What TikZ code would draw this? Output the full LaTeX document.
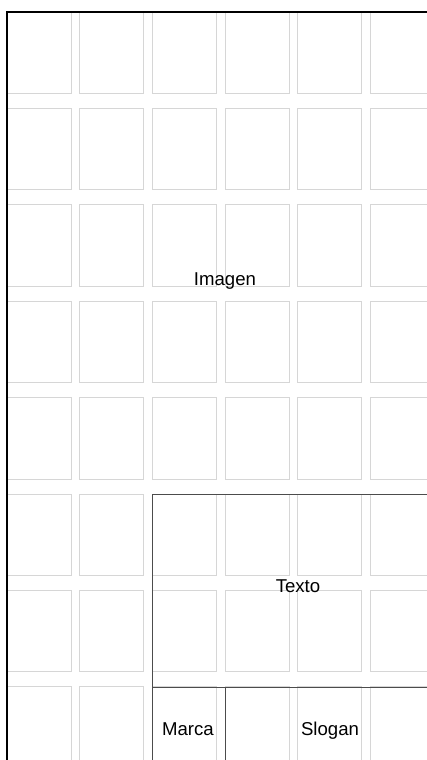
\documentclass[tikz,border=0pt]{standalone}
\usepackage{fontspec}
\setmainfont{Liberation Sans}
\begin{document}
\begin{tikzpicture}[x=1pt, y=-1pt,
    celda/.style={draw=black!16, line width=1pt},
    marco/.style={draw=black!70, line width=0.9pt},
    etiqueta/.style={font=\fontsize{18.6}{22}\selectfont, inner sep=0pt, anchor=base}]
    % Tamaño del lienzo
    \useasboundingbox (0, 0) rectangle (427, 760);
    \clip (0, 0) rectangle (427, 760);

    % Cuadrícula de fondo
    \foreach \c in {0,...,5} {
        \foreach \r in {0,...,7} {
            \draw[celda] ({7+72.7*\c}, {12+96.4*\r}) rectangle ++(64, 81.5);
        }
    }

    % Borde superior e izquierdo
    \draw[line width=1.2pt] (427, 12) -- (7, 12) -- (7, 760);

    % Esquinas de las zonas
    \coordinate (T1) at (152, 494);
    \coordinate (T2) at (440, 687);
    \coordinate (M) at (225, 687);

    % Zona de texto, marca y slogan
    \draw[marco] (T1) rectangle (T2);
    \draw[marco] (152, 687) rectangle (440, 780);
    \draw[marco] (M) -- (225, 780);

    % Rótulos (sobre la línea base)
    \node[etiqueta] (imagen) at (225, 285) {Imagen};
    \node[etiqueta] (texto) at (298, 592) {Texto};
    \node[etiqueta] (marca) at (188, 735) {Marca};
    \node[etiqueta] (slogan) at (330, 735) {Slogan};
\end{tikzpicture}
\end{document}
